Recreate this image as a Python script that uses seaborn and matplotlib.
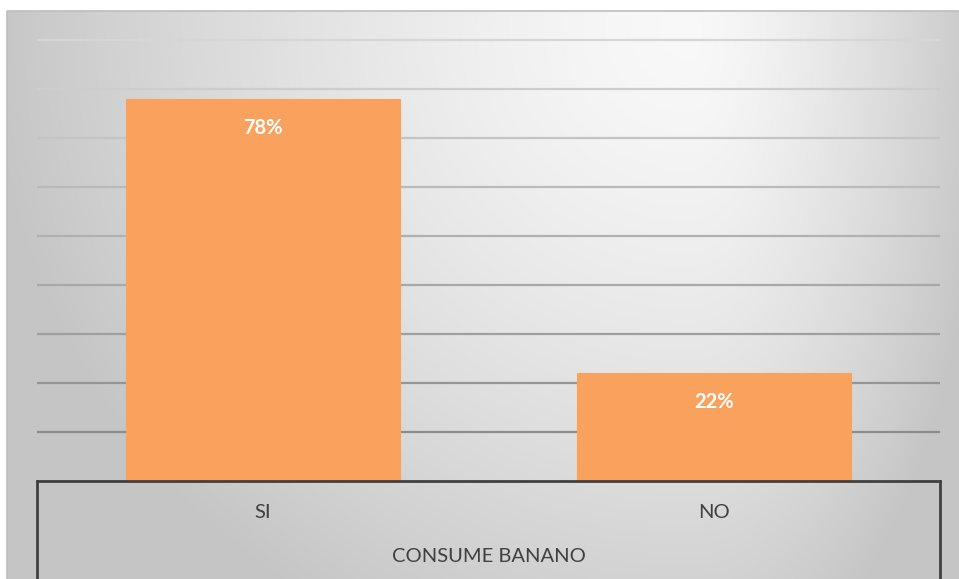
import numpy as np
import pandas as pd
import matplotlib
matplotlib.use("Agg")
import matplotlib.pyplot as plt
import seaborn as sns

# Data
categories = ["SI", "NO"]
shares = [0.78, 0.22]
value_labels = ["78%", "22%"]
group_title = "CONSUME BANANO"
grid_levels = [0.1, 0.2, 0.3, 0.4, 0.5, 0.6, 0.7, 0.8, 0.9]

sns.set_theme(style="white")
plt.rcParams["font.family"] = ["Lato", "DejaVu Sans"]
plt.rcParams["hatch.linewidth"] = 0.5

W, H = 959, 579
fig = plt.figure(figsize=(W / 100, H / 100), dpi=100)
fig.patch.set_facecolor("white")

# Chart area background: soft radial grey gradient
bg = fig.add_axes([7 / W, 0, 1 - 7 / W, 1 - 11 / H])
bg.set_axis_off()
xs = np.linspace(7, W, 400)
ys = np.linspace(11, H, 240)
X, Y = np.meshgrid(xs, ys)
cx, cy = 690.0, 30.0
sx = np.where(X < cx, 700.0, 300.0)
d = np.sqrt(((X - cx) / sx) ** 2 + ((Y - cy) / 680.0) ** 2)
L = 0.975 - 0.2 * np.clip(d, 0, 1) ** 1.4
bg.imshow(np.dstack([L, L, L]), extent=[0, 1, 0, 1], aspect="auto",
          interpolation="bilinear", origin="upper")
bg.plot([0, 0, 1], [0, 1, 1], transform=bg.transAxes, color="#bdbdbd",
        linewidth=1.2, clip_on=False)

# Plot area
x0, x1, ybase, ytop = 37, 940, 481, 12
ax = fig.add_axes([x0 / W, 1 - ybase / H, (x1 - x0) / W, (ybase - ytop) / H])
ax.patch.set_alpha(0)

df = pd.DataFrame({"categoria": categories, "porcentaje": shares})
sns.barplot(data=df, x="categoria", y="porcentaje", color="#F79646",
            width=0.607, saturation=1, ax=ax, zorder=3)
for bar in ax.patches:
    bar.set_hatch("+" * 16)
    bar.set_edgecolor("#f9a25e")
    bar.set_linewidth(0.8)

ax.set_xlim(-0.5, 1.5)
ax.set_ylim(0, (ybase - ytop) / 490.0)
ax.set_yticks(grid_levels)
ax.tick_params(axis="y", length=0, labelleft=False)
ax.tick_params(axis="x", length=0, labelbottom=False)
ax.set_xlabel("")
ax.set_ylabel("")
for s in ax.spines.values():
    s.set_visible(False)

# Gridlines shade darker toward the base
ax.yaxis.grid(True, linewidth=1.6, zorder=0)
ax.set_axisbelow(True)
gl = ax.get_ygridlines()
shades = np.linspace(0.55, 0.84, len(gl))
for line, sh in zip(gl, shades):
    line.set_color((sh, sh, sh))

# Value labels inside bars
for i, (v, lab) in enumerate(zip(shares, value_labels)):
    ax.annotate(lab, xy=(i, v), xytext=(0, -29), textcoords="offset pixels",
                ha="center", va="center", color="white", fontsize=14.5,
                fontweight="bold", zorder=5)

# Category axis drawn as a bracket with the group label underneath
axis_c = "#404040"
hpx = ybase - ytop
ax.plot([0, 1], [0, 0], transform=ax.transAxes, color=axis_c,
        linewidth=2.0, clip_on=False, zorder=6, solid_capstyle="projecting")
for xa in (0, 1):
    ax.plot([xa, xa], [0, -(H - ybase + 5) / hpx], transform=ax.transAxes,
            color=axis_c, linewidth=2.0, clip_on=False, zorder=6)
for i, c in enumerate(categories):
    ax.text(i, -31 / hpx, c, transform=ax.get_xaxis_transform(),
            ha="center", va="center", color=axis_c, fontsize=14.5)
ax.text(0.5, -75 / hpx, group_title, transform=ax.transAxes,
        ha="center", va="center", color=axis_c, fontsize=14.5)

fig.savefig("out.png", dpi=100)
